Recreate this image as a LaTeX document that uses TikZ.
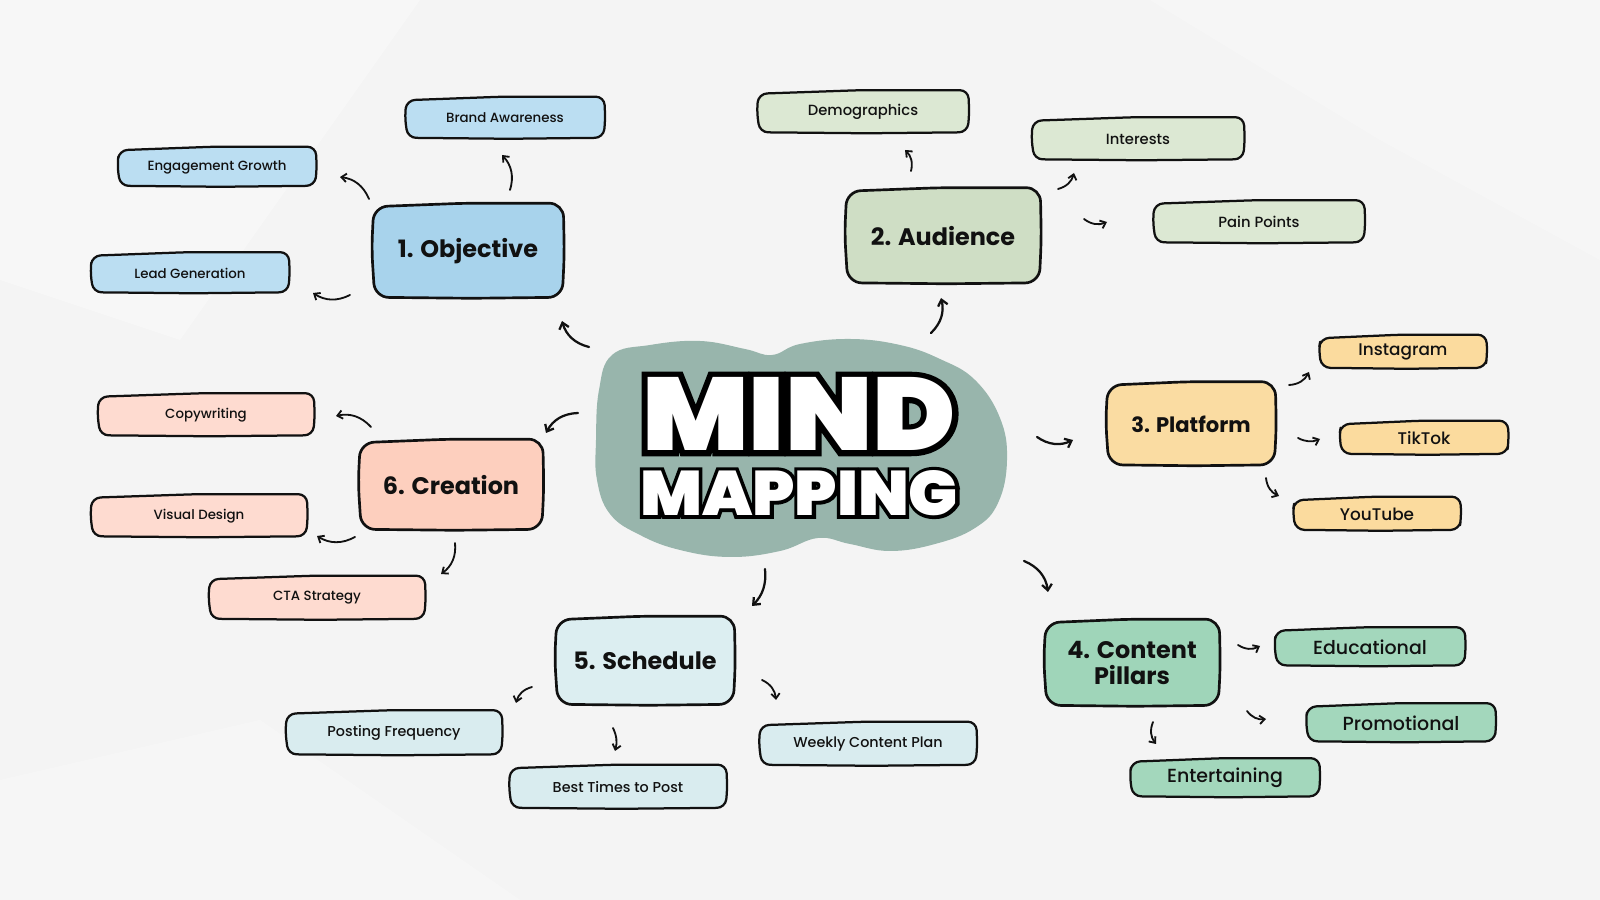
\documentclass[tikz,border=0pt]{standalone}
\usepackage{fontspec}
\usetikzlibrary{arrows.meta,backgrounds,calc}
\setmainfont{Poppins}
\IfFontExistsTF{Poppins Medium}{\newfontfamily\subfont{Poppins Medium}}{\newfontfamily\subfont{Poppins}}
\IfFontExistsTF{Poppins Bold}{\newfontfamily\headfont{Poppins Bold}}{\newfontfamily\headfont{Poppins}[FakeBold=2]}
\IfFontExistsTF{Poppins Black}{\def\titlename{Poppins Black}}{\IfFontExistsTF{Poppins ExtraBold}{\def\titlename{Poppins ExtraBold}}{\def\titlename{Poppins Bold}}}
\newfontfamily\titlefont{\titlename}
\newfontfamily\titleout{\titlename}[FakeBold=11]
\definecolor{bgc}{HTML}{F4F4F4}
\definecolor{ink}{HTML}{111111}
\definecolor{blobc}{HTML}{98B5AC}
\definecolor{objmain}{HTML}{A8D3EC}
\definecolor{objsub}{HTML}{BBDEF2}
\definecolor{audmain}{HTML}{CFDEC5}
\definecolor{audsub}{HTML}{DCE8D3}
\definecolor{platmain}{HTML}{FADCA2}
\definecolor{platsub}{HTML}{FBDB9E}
\definecolor{contmain}{HTML}{9FD5B9}
\definecolor{contsub}{HTML}{A3D7BC}
\definecolor{schedmain}{HTML}{DCEEF1}
\definecolor{schedsub}{HTML}{D9ECEF}
\definecolor{creamain}{HTML}{FDCFBE}
\definecolor{creasub}{HTML}{FEDBD0}
\def\px{0.71132pt}
\newcommand{\skbox}[4]{% node, fill, radius, line width
  \filldraw[fill=#2, draw=ink, line width=#4, rounded corners=#3, line join=round]
   ([shift={(1,-2)}]#1.north west) -- ([shift={(-3,1.5)}]#1.north) -- ([shift={(0,1.5)}]#1.north east)
   -- ([shift={(1,-3)}]#1.east) -- ([shift={(-1,0)}]#1.south east) -- ([shift={(4,-1)}]#1.south)
   -- ([shift={(2,0)}]#1.south west) -- ([shift={(-1,2)}]#1.west) -- cycle;}
% one letter of the outlined title: black emboldened copy, kept to the width of the plain letter
\newcommand{\blk}[1]{\setbox0\hbox{\titlefont #1}\makebox[\wd0][l]{\titleout #1}}
\newcommand{\wht}[1]{\hbox{\titlefont #1}}
\tikzset{
  sub/.style={font={\subfont\fontsize{#1}{#1}\selectfont}, inner sep=0pt, text=ink},
  mainbox/.style={font={\headfont\fontsize{#1}{1.05\dimexpr#1\relax}\selectfont}, inner sep=0pt, text=ink, align=center},
  sz/.style n args={2}{minimum width={#1*\px}, minimum height={#2*\px}},
  arr/.style={-{Straight Barb[length=3.6pt,width=6pt]}, line width=1.3pt, line cap=round, draw=ink},
  bigarr/.style={-{Straight Barb[length=4.2pt,width=7pt]}, line width=1.6pt, line cap=round, draw=ink},
}
\begin{document}
\begin{tikzpicture}[x=0.025cm,y=0.025cm]
\useasboundingbox (0,0) rectangle (1600,900);
% ---------- title ----------
\coordinate (hub) at (800,451);
\node[inner sep=0pt] (mind) at (799,486) {\resizebox{223pt}{52pt}{\fontsize{80pt}{80pt}\selectfont
  \rlap{\color{black}\blk{M}\blk{I}\blk{N}\blk{D}}\color{white}\wht{M}\wht{I}\wht{N}\wht{D}}};
\node[inner sep=0pt] (mapping) at (799,407) {\resizebox{226pt}{32pt}{\fontsize{80pt}{80pt}\selectfont
  \rlap{\color{black}\blk{M}\blk{A}\blk{P}\blk{P}\blk{I}\blk{N}\blk{G}}\color{white}\wht{M}\wht{A}\wht{P}\wht{P}\wht{I}\wht{N}\wht{G}}};
% ---------- main nodes ----------
\node[mainbox=17pt, sz={190}{92}] (obj) at (468,649) {1. Objective};
\node[mainbox=17pt, sz={194}{93}] (aud) at (943,664) {2. Audience};
\node[mainbox=15pt, sz={168}{81}] (plat) at (1191,476) {3. Platform};
\node[mainbox=17pt, sz={174}{84}] (cont) at (1132,237) {4. Content\\Pillars};
\node[mainbox=17pt, sz={178}{86}] (sched) at (645,239) {5. Schedule};
\node[mainbox=17pt, sz={183}{88}] (crea) at (451,415) {6. Creation};
% ---------- sub nodes ----------
\node[sub=9.5pt, sz={198}{39}] (brand) at (505,782) {Brand Awareness};
\node[sub=9.5pt, sz={197}{37}] (eng) at (217,733) {Engagement Growth};
\node[sub=9.5pt, sz={197}{38}] (lead) at (190,627) {Lead Generation};
\node[sub=10.5pt, sz={210}{40}] (demo) at (863,788) {Demographics};
\node[sub=10.5pt, sz={211}{40}] (inter) at (1138,761) {Interests};
\node[sub=10.5pt, sz={210}{40}] (pain) at (1259,678) {Pain Points};
\node[sub=12pt, sz={166}{31}] (insta) at (1403,548) {Instagram};
\node[sub=12pt, sz={167}{31}] (tiktok) at (1424,462) {TikTok};
\node[sub=12pt, sz={166}{31}] (yt) at (1377,386) {YouTube};
\node[sub=13.5pt, sz={189}{36}] (edu) at (1370,253) {Educational};
\node[sub=13.5pt, sz={188}{36}] (promo) at (1401,177) {Promotional};
\node[sub=13.5pt, sz={188}{36}] (ent) at (1225,122) {Entertaining};
\node[sub=10.2pt, sz={215}{42}] (post) at (394,167) {Posting Frequency};
\node[sub=10.2pt, sz={216}{41}] (best) at (618,113) {Best Times to Post};
\node[sub=10.2pt, sz={216}{41}] (weekly) at (868,156) {Weekly Content Plan};
\node[sub=9.5pt, sz={215}{40}] (copy) at (206,485) {Copywriting};
\node[sub=9.5pt, sz={215}{40}] (visual) at (199,384) {Visual Design};
\node[sub=9.5pt, sz={215}{41}] (cta) at (317,302) {CTA Strategy};
% ---------- background layer ----------
\begin{scope}[on background layer]
  \fill[bgc] (0,0) rectangle (1600,900);
  \fill[white, opacity=0.3] (0,900) -- (420,900) -- (180,560) -- (0,620) -- cycle;
  \fill[white, opacity=0.25] (1150,900) -- (1600,900) -- (1600,640) -- (1380,760) -- cycle;
  \fill[white, opacity=0.25] (0,0) -- (520,0) -- (260,180) -- (0,120) -- cycle;
  \fill[blobc] plot[smooth cycle, tension=0.7] coordinates {
    (596,460) (599,510) (612,545) (650,555) (700,559) (745,551) (772,545) (800,556)
    (850,561) (900,555) (940,541) (975,520) (1000,482) (1007,440) (998,397) (975,372)
    (935,356) (890,349) (850,356) (818,362) (780,349) (730,343) (680,350) (640,365)
    (610,386) (597,420)};
  \skbox{obj}{objmain}{10pt}{1.9pt}
  \skbox{aud}{audmain}{10pt}{1.9pt}
  \skbox{plat}{platmain}{10pt}{1.9pt}
  \skbox{cont}{contmain}{10pt}{1.9pt}
  \skbox{sched}{schedmain}{10pt}{1.9pt}
  \skbox{crea}{creamain}{10pt}{1.9pt}
  \skbox{brand}{objsub}{6pt}{1.6pt}
  \skbox{eng}{objsub}{6pt}{1.6pt}
  \skbox{lead}{objsub}{6pt}{1.6pt}
  \skbox{demo}{audsub}{6pt}{1.6pt}
  \skbox{inter}{audsub}{6pt}{1.6pt}
  \skbox{pain}{audsub}{6pt}{1.6pt}
  \skbox{insta}{platsub}{6pt}{1.6pt}
  \skbox{tiktok}{platsub}{6pt}{1.6pt}
  \skbox{yt}{platsub}{6pt}{1.6pt}
  \skbox{edu}{contsub}{6pt}{1.6pt}
  \skbox{promo}{contsub}{6pt}{1.6pt}
  \skbox{ent}{contsub}{6pt}{1.6pt}
  \skbox{post}{schedsub}{6pt}{1.6pt}
  \skbox{best}{schedsub}{6pt}{1.6pt}
  \skbox{weekly}{schedsub}{6pt}{1.6pt}
  \skbox{copy}{creasub}{6pt}{1.6pt}
  \skbox{visual}{creasub}{6pt}{1.6pt}
  \skbox{cta}{creasub}{6pt}{1.6pt}
\end{scope}
% ---------- connectors ----------
\draw[bigarr] ([shift={(-211,102)}]hub) to[bend left=30] ([shift={(94,-70)}]obj.center);
\draw[arr] ([shift={(42,61)}]obj.center) to[bend right=30] ([shift={(-3,-37)}]brand.center);
\draw[arr] ([shift={(-99,52)}]obj.center) to[bend right=30] ([shift={(123,-10)}]eng.center);
\draw[arr] ([shift={(-118,-44)}]obj.center) to[bend left=30] ([shift={(123,-20)}]lead.center);
\draw[bigarr] ([shift={(131,116)}]hub) to[bend right=30] ([shift={(-2,-62)}]aud.center);
\draw[arr] ([shift={(-32,65)}]aud.center) to[bend right=30] ([shift={(42,-38)}]demo.center);
\draw[arr] ([shift={(115,47)}]aud.center) to[bend right=30] ([shift={(-64,-34)}]inter.center);
\draw[arr] ([shift={(141,17)}]aud.center) to[bend right=30] ([shift={(-152,0)}]pain.center);
\draw[bigarr] ([shift={(237,12)}]hub) to[bend right=30] ([shift={(-118,-16)}]plat.center);
\draw[arr] ([shift={(98,39)}]plat.center) to[bend right=30] ([shift={(-94,-20)}]insta.center);
\draw[arr] ([shift={(107,-14)}]plat.center) to[bend right=25] ([shift={(-104,-1)}]tiktok.center);
\draw[arr] ([shift={(75,-54)}]plat.center) to[bend right=30] ([shift={(-98,18)}]yt.center);
\draw[bigarr] ([shift={(224,-112)}]hub) to[bend left=30] ([shift={(-84,71)}]cont.center);
\draw[arr] ([shift={(106,18)}]cont.center) to[bend right=30] ([shift={(-110,1)}]edu.center);
\draw[arr] ([shift={(115,-48)}]cont.center) to[bend right=30] ([shift={(-135,4)}]promo.center);
\draw[arr] ([shift={(21,-59)}]cont.center) to[bend right=30] ([shift={(-69,34)}]ent.center);
\draw[bigarr] ([shift={(-35,-120)}]hub) to[bend left=25] ([shift={(107,55)}]sched.center);
\draw[arr] ([shift={(-113,-26)}]sched.center) to[bend right=30] ([shift={(122,30)}]post.center);
\draw[arr] ([shift={(-32,-67)}]sched.center) to[bend left=20] ([shift={(-3,36)}]best.center);
\draw[arr] ([shift={(117,-19)}]sched.center) to[bend left=30] ([shift={(-92,44)}]weekly.center);
\draw[bigarr] ([shift={(-222,36)}]hub) to[bend right=30] ([shift={(95,52)}]crea.center);
\draw[arr] ([shift={(-80,58)}]crea.center) to[bend right=30] ([shift={(130,-1)}]copy.center);
\draw[arr] ([shift={(-96,-52)}]crea.center) to[bend left=30] ([shift={(118,-20)}]visual.center);
\draw[arr] ([shift={(4,-58)}]crea.center) to[bend left=30] ([shift={(124,24)}]cta.center);
\end{tikzpicture}
\end{document}
